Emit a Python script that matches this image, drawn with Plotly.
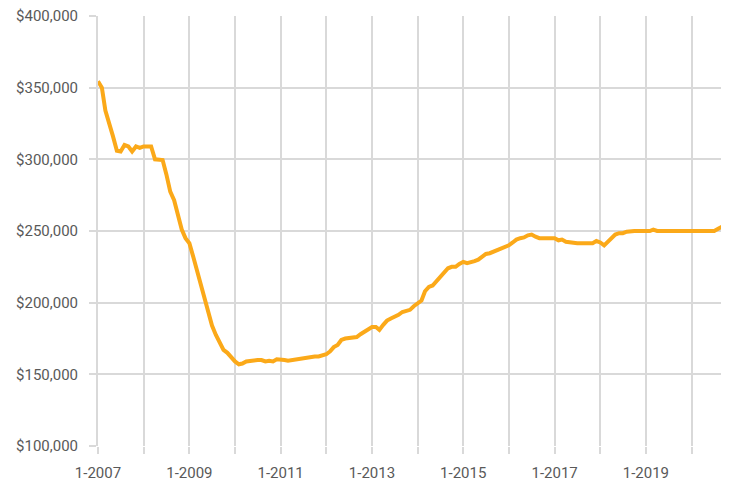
import pandas as pd
import plotly.graph_objects as go

start_month = "2007-01-01"

# Monthly median price values, Jan 2007 .. Sep 2020
values = [
    354500, 350000, 334000, 323500, 316000, 306000, 305500, 310000, 309000, 305500, 309000, 308000,  # 2007
    309000, 309000, 309000, 300000, 300000, 299500, 289500, 277500, 271500, 261000, 251000, 245000,  # 2008
    241500, 232000, 223000, 215000, 204000, 193000, 184000, 177500, 172500, 167000, 165000, 161500,  # 2009
    159000, 157000, 157500, 159000, 159500, 160000, 160000, 160000, 159000, 159500, 159000, 160500,  # 2010
    160500, 160000, 159500, 160000, 160500, 160500, 161000, 161500, 162000, 162500, 162500, 163000,  # 2011
    164000, 166000, 169000, 170500, 174000, 175000, 175500, 175500, 176000, 178000, 179500, 181500,  # 2012
    183000, 183000, 181000, 184500, 187500, 189000, 190000, 191500, 193500, 194500, 195000, 197500,  # 2013
    199500, 201500, 208000, 211000, 212000, 215000, 218000, 221500, 224000, 225000, 225000, 227000,  # 2014
    228500, 227500, 228000, 229000, 230000, 232000, 234000, 234500, 235500, 236500, 238000, 239000,  # 2015
    240000, 242000, 244000, 245000, 245500, 247000, 247500, 246000, 245000, 245000, 245000, 245000,  # 2016
    245000, 243500, 244000, 242500, 242000, 241500, 241500, 241500, 241500, 241000, 241500, 243000,  # 2017
    242000, 240000, 242500, 245000, 247500, 248500, 248500, 249500, 250000, 250000, 250000, 250000,  # 2018
    250000, 250000, 251000, 250000, 250000, 250000, 250000, 250000, 250000, 250000, 250000, 250000,  # 2019
    250000, 250000, 250000, 250000, 250000, 250000, 250000, 251500, 253000,                          # 2020
]

dates = pd.date_range(start_month, periods=len(values), freq="MS")

y_ticks = [100000, 150000, 200000, 250000, 300000, 350000, 400000]

grid = "#d9d9d9"
text_col = "#595959"
line_col = "#FBA919"

fig = go.Figure()
fig.add_trace(go.Scatter(
    x=dates, y=values, mode="lines",
    line=dict(color=line_col, width=4),
    hoverinfo="x+y",
))

# the page body has an 8px margin, so the figure is sized to fill the rest of the window
fig.update_layout(
    width=721, height=473,
    margin=dict(l=90, r=7, t=8, b=35),
    paper_bgcolor="white", plot_bgcolor="white",
    showlegend=False,
    font=dict(family="Roboto, Arial, sans-serif", size=15, color=text_col),
)

fig.update_xaxes(
    type="date",
    automargin=False,
    range=[dates[0], dates[-1]],
    tick0=start_month, dtick="M24", tickformat="%-m-%Y",
    showgrid=True, gridcolor=grid, gridwidth=2,
    ticks="outside", ticklen=7, tickcolor=grid, tickwidth=2,
    ticklabelstandoff=6, ticklabeloverflow="allow",
    minor=dict(tick0=start_month, dtick="M12", showgrid=True, gridcolor=grid, gridwidth=2,
               ticks="outside", ticklen=7, tickcolor=grid, tickwidth=2),
    showline=False, zeroline=False,
    tickfont=dict(size=15, color=text_col),
)

fig.update_yaxes(
    automargin=False,
    range=[100000, 400000],
    tickvals=y_ticks, tickformat="$,.0f",
    showgrid=True, gridcolor=grid, gridwidth=2,
    ticks="outside", ticklen=7, tickcolor=grid, tickwidth=2,
    ticklabelstandoff=8, ticklabeloverflow="allow",
    showline=True, linecolor=grid, linewidth=2, mirror=True,
    zeroline=False,
    tickfont=dict(size=15, color=text_col),
)

fig.write_html("out.html")
